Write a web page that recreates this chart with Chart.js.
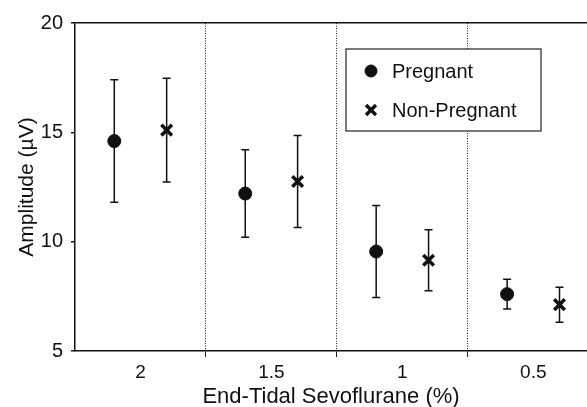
<!DOCTYPE html>
<html>
<head>
<meta charset="utf-8">
<script src="https://cdn.jsdelivr.net/npm/chart.js@4"></script>
<style>
  html, body { margin:0; padding:0; background:#fff; }
  canvas { display:block; }
</style>
</head>
<body>
<canvas id="ampChart" width="587" height="407"></canvas>
<script>
// chart data
const categories = ['2', '1.5', '1', '0.5'];          // end-tidal sevoflurane (%)
const pregnantMean = [14.6, 12.2, 9.55, 7.6];
const pregnantErr  = [2.8, 2.0, 2.1, 0.68];
const nonPregMean  = [15.1, 12.75, 9.15, 7.12];
const nonPregErr   = [2.37, 2.1, 1.4, 0.8];
const yTicks = [5, 10, 15, 20];

const FONT = 'Liberation Sans, Arial, sans-serif';

function points(means, shift){
  return means.map((m, i) => ({ x: i + 1 + shift, y: m }));
}

// error bars, drawn from the data through the scales
const errorBars = {
  id: 'errorBars',
  beforeDatasetsDraw(chart){
    const ctx = chart.ctx, xs = chart.scales.x, ys = chart.scales.y;
    ctx.save();
    ctx.strokeStyle = '#111';
    ctx.lineWidth = 1.5;
    chart.data.datasets.forEach(ds => {
      ds.data.forEach((p, i) => {
        const x = xs.getPixelForValue(p.x);
        const top = ys.getPixelForValue(p.y + ds.err[i]);
        const bot = ys.getPixelForValue(p.y - ds.err[i]);
        ctx.beginPath();
        ctx.moveTo(x, top); ctx.lineTo(x, bot);
        ctx.moveTo(x - 4, top); ctx.lineTo(x + 4, top);
        ctx.moveTo(x - 4, bot); ctx.lineTo(x + 4, bot);
        ctx.stroke();
      });
    });
    ctx.restore();
  }
};

// boxed legend inside the plot, top right
const boxLegend = {
  id: 'boxLegend',
  afterDatasetsDraw(chart){
    const ctx = chart.ctx;
    const bx = 346, by = 49, bw = 195, bh = 82;
    ctx.save();
    ctx.fillStyle = '#fff';
    ctx.fillRect(bx, by, bw, bh);
    ctx.strokeStyle = '#222';
    ctx.lineWidth = 1.2;
    ctx.strokeRect(bx, by, bw, bh);
    ctx.font = '20px ' + FONT;
    ctx.textBaseline = 'middle';
    chart.data.datasets.forEach((ds, i) => {
      const y = by + 22 + i * 39;
      ctx.fillStyle = '#111';
      ctx.strokeStyle = '#111';
      ctx.lineWidth = ds.pointBorderWidth;
      Chart.helpers.drawPoint(ctx, {
        pointStyle: ds.pointStyle, radius: ds.pointRadius - 0.5,
        borderWidth: ds.pointBorderWidth, rotation: 0
      }, bx + 25, y);
      ctx.fillStyle = '#111';
      ctx.fillText(ds.label, bx + 46, y + 1);
    });
    ctx.restore();
  }
};

new Chart(document.getElementById('ampChart'), {
  type: 'scatter',
  data: {
    datasets: [
      { label: 'Pregnant', data: points(pregnantMean, -0.2), err: pregnantErr,
        pointStyle: 'circle', pointRadius: 6.5, pointBorderWidth: 1,
        backgroundColor: '#111', borderColor: '#111' },
      { label: 'Non-Pregnant', data: points(nonPregMean, 0.2), err: nonPregErr,
        pointStyle: 'crossRot', pointRadius: 7.5, pointBorderWidth: 3.5,
        backgroundColor: '#111', borderColor: '#111' }
    ]
  },
  options: {
    responsive: false,
    animation: false,
    devicePixelRatio: 1,
    // the plot runs past the right edge of the picture, so no padding there
    layout: { autoPadding: false, padding: { top: 23, right: 0, left: 0, bottom: 0 } },
    plugins: { legend: { display: false }, tooltip: { enabled: false } },
    scales: {
      x: {
        type: 'linear',
        min: 0.5,
        max: 4.41,
        afterBuildTicks: s => { s.ticks = [1, 1.5, 2, 2.5, 3, 3.5, 4].map(v => ({ value: v })); },
        afterFit: s => { s.height = 56; s.paddingLeft = 0; s.paddingRight = 0; },
        ticks: {
          autoSkip: false, maxRotation: 0, padding: 4,
          color: '#111', font: { family: FONT, size: 19 },
          callback: v => Number.isInteger(v) ? categories[v - 1] : ''
        },
        grid: {
          color: c => (c.tick && !Number.isInteger(c.tick.value)) ? '#222' : 'transparent',
          tickColor: c => (c.tick && !Number.isInteger(c.tick.value)) ? '#222' : 'transparent',
          tickLength: 6, lineWidth: 1
        },
        border: { display: true, color: '#111', width: 1.5, dash: [1, 1.5] },
        title: {
          display: true, text: 'End-Tidal Sevoflurane (%)', color: '#111',
          font: { family: FONT, size: 22 }, padding: { top: 0, bottom: -3 }
        }
      },
      y: {
        min: 5,
        max: 20,
        afterBuildTicks: s => { s.ticks = yTicks.map(v => ({ value: v })); },
        afterFit: s => { s.width = 75; },
        ticks: { padding: 8, color: '#111', font: { family: FONT, size: 20 } },
        grid: {
          color: c => (c.tick && c.tick.value === 20) ? '#111' : 'transparent',
          tickColor: '#111', tickLength: 4, lineWidth: 1.5
        },
        border: { display: true, color: '#111', width: 1.5 },
        title: {
          display: true, text: 'Amplitude (\u00b5V)', color: '#111',
          font: { family: FONT, size: 21 }, padding: { top: 15, bottom: 0 }
        }
      }
    }
  },
  plugins: [errorBars, boxLegend]
});
</script>
</body>
</html>
